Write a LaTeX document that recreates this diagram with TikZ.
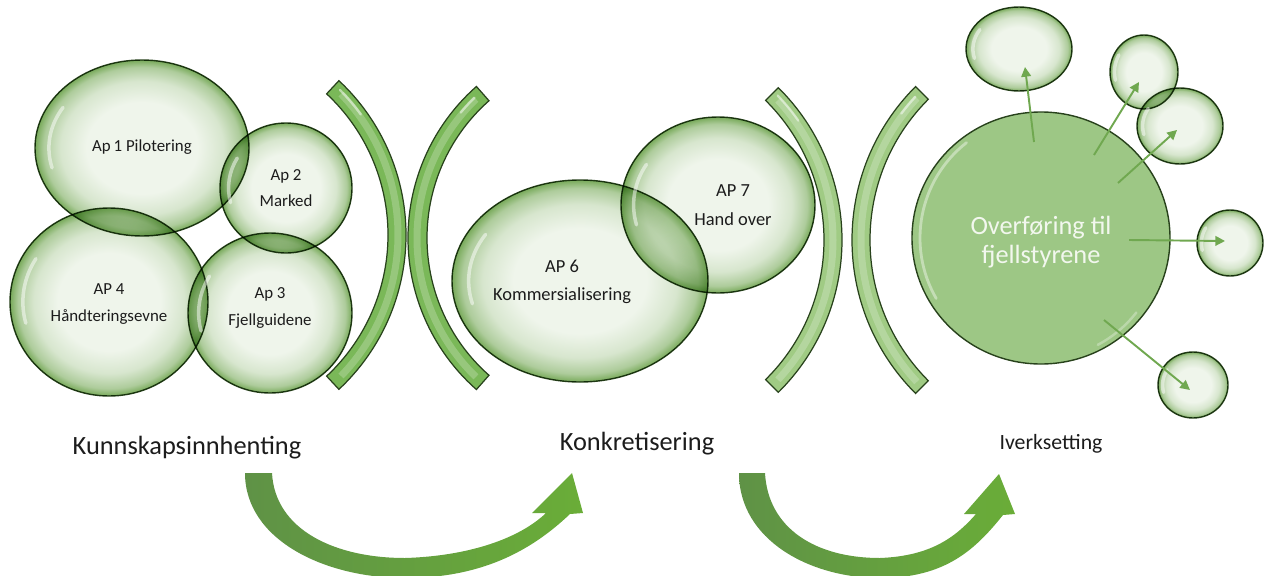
\documentclass[tikz,border=0pt]{standalone}
\usepackage{fontspec}
\setmainfont{Carlito}
\usetikzlibrary{shapes.geometric,arrows.meta}
\newcommand\PX{0.02cm}
\definecolor{bubIn}{RGB}{239,245,235}
\definecolor{bubOut}{RGB}{120,170,90}
\definecolor{edgec}{RGB}{40,66,28}
\definecolor{txt}{RGB}{28,28,28}
\definecolor{brkA}{RGB}{122,184,88}
\definecolor{brkB}{RGB}{160,203,132}
\definecolor{bigfill}{RGB}{157,199,133}
\definecolor{bigtxt}{RGB}{242,247,238}
\definecolor{arr}{RGB}{112,168,80}
\definecolor{bigarrL}{RGB}{95,146,70}
\definecolor{bigarrR}{RGB}{106,173,56}
\pgfdeclareradialshading{bubshade}{\pgfpoint{0bp}{0bp}}{color(0bp)=(bubIn); color(13bp)=(bubIn); color(19bp)=(bubIn!80!bubOut); color(23bp)=(bubIn!45!bubOut); color(25bp)=(bubOut); color(50bp)=(bubOut)}
\newcommand\gloss[4]{\draw[glossy] (#1,#2) ++(212:{0.87*#3} and {0.87*#4}) arc[start angle=212,end angle=165,x radius={0.87*#3},y radius={0.87*#4}];}
\begin{document}
\begin{tikzpicture}[x=0.02cm,y=-0.02cm,
  bubble/.style={ellipse, draw=edgec, line width=0.8pt, shading=bubshade,
    blend mode=multiply, inner sep=0pt},
  lbl/.style={align=center, text=txt, inner sep=0pt},
  small/.style={lbl, font=\fontsize{9.6}{15}\selectfont},
  mid/.style={lbl, font=\fontsize{10.5}{16.2}\selectfont},
  phase/.style={lbl, font=\fontsize{15}{18}\selectfont},
  brk/.style={draw=edgec, line width=0.7pt},
  brkhl/.style={line width=7*\PX, draw=white, opacity=0.22},
  glossy/.style={draw=white, line width=2pt, opacity=0.5, line cap=round},
  spoke/.style={draw=arr, line width=1.1pt, -{Triangle[length=5.5pt,width=5.5pt]}}
]
\useasboundingbox (0,0) rectangle (1265,575);

% ---------- left group ----------
\node[bubble, minimum width=214*\PX, minimum height=176*\PX] (ap1) at (142,148) {};
\node[bubble, minimum width=132*\PX, minimum height=130*\PX] (ap2) at (286,188) {};
\node[bubble, minimum width=198*\PX, minimum height=188*\PX] (ap4) at (109,302) {};
\node[bubble, minimum width=164*\PX, minimum height=160*\PX] (ap3) at (270,313) {};
\gloss{142}{148}{107}{88}
\gloss{286}{188}{66}{65}
\gloss{109}{302}{99}{94}
\gloss{270}{313}{82}{80}
\node[small] (ap1t) at (142,147) {Ap\,1 Pilotering};
\node[small] (ap2t) at (286,188) {Ap 2\\Marked};
\node[small] (ap4t) at (109,304) {AP 4\\Håndteringsevne};
\node[small] (ap3t) at (270,308) {Ap 3\\Fjellguidene};

% ---------- brackets 1 ----------
\draw[brk, fill=brkA] (195,235) ++(-47:193) arc[start angle=-47,end angle=47,radius=193] -- ++(47:18) arc[start angle=47,end angle=-47,radius=211] -- cycle;
\draw[brkhl] (195,235) ++(-44:203) arc[start angle=-44,end angle=44,radius=203];
\draw[glossy, line width=1.3pt] (195,235) ++(-45:205) arc[start angle=-45,end angle=-36,radius=205];
\draw[brk, fill=brkA] (610,238) ++(131.4:183) arc[start angle=131.4,end angle=228.6,radius=183] -- ++(228.6:19) arc[start angle=228.6,end angle=131.4,radius=202] -- cycle;
\draw[brkhl] (610,238) ++(134:193) arc[start angle=134,end angle=226,radius=193];
\draw[glossy, line width=1.3pt] (610,238) ++(226:195) arc[start angle=226,end angle=220,radius=195];

% ---------- brackets 2 ----------
\draw[brk, fill=brkB] (628,240) ++(-45.4:196) arc[start angle=-45.4,end angle=45.4,radius=196] -- ++(45.4:18) arc[start angle=45.4,end angle=-45.4,radius=214] -- cycle;
\draw[brkhl] (628,240) ++(-43:205) arc[start angle=-43,end angle=43,radius=205];
\draw[glossy, line width=1.3pt] (628,240) ++(-44:208) arc[start angle=-44,end angle=-35,radius=208];
\draw[brk, fill=brkB] (1069,240) ++(135:199) arc[start angle=135,end angle=225,radius=199] -- ++(225:18) arc[start angle=225,end angle=135,radius=217] -- cycle;
\draw[brkhl] (1069,240) ++(137:208) arc[start angle=137,end angle=223,radius=208];
\draw[glossy, line width=1.3pt] (1069,240) ++(223:210) arc[start angle=223,end angle=217,radius=210];

% ---------- middle group ----------
\node[bubble, minimum width=256*\PX, minimum height=202*\PX] (ap6) at (580,281) {};
\node[bubble, minimum width=194*\PX, minimum height=176*\PX] (ap7) at (718,205) {};
\gloss{580}{281}{128}{101}
\gloss{718}{205}{97}{88}
\node[mid] (ap6t) at (562,282) {AP 6\\Kommersialisering};
\node[mid] (ap7t) at (733,205) {AP 7\\Hand over};

% ---------- right group ----------
\node[ellipse, draw=edgec, line width=0.8pt, fill=bigfill, inner sep=0pt,
      minimum width=258*\PX, minimum height=252*\PX] (big) at (1041,238) {};
\draw[draw=white, line width=1.6pt, opacity=0.4, line cap=round] (1041,238) ++(150:121) arc[start angle=150,end angle=232,radius=121];
\draw[draw=white, line width=1.4pt, opacity=0.3, line cap=round] (1041,238) ++(38:121) arc[start angle=38,end angle=62,radius=121];
\node[lbl, text=bigtxt, font=\fontsize{15}{16.5}\selectfont] (bigt) at (1041,242) {Overføring til\\fjellstyrene};

\node[bubble, minimum width=106*\PX, minimum height=84*\PX] (s1) at (1019,49) {};
\node[bubble, minimum width=68*\PX, minimum height=74*\PX] (s2) at (1144,72) {};
\node[bubble, minimum width=86*\PX, minimum height=76*\PX] (s3) at (1180,126) {};
\node[bubble, minimum width=66*\PX, minimum height=66*\PX] (s4) at (1230,243) {};
\node[bubble, minimum width=70*\PX, minimum height=66*\PX] (s5) at (1193,385) {};
\gloss{1019}{49}{53}{42}
\gloss{1144}{72}{34}{37}
\gloss{1180}{126}{43}{38}
\gloss{1230}{243}{33}{33}
\gloss{1193}{385}{35}{33}

\coordinate (o1) at (1034,142); \coordinate (e1) at (1025,67);
\coordinate (o2) at (1094,155); \coordinate (e2) at (1139,82);
\coordinate (o3) at (1118,183); \coordinate (e3) at (1177,130);
\coordinate (o4) at (1129,240); \coordinate (e4) at (1225,241);
\coordinate (o5) at (1104,320); \coordinate (e5) at (1190,390);
\draw[spoke] (o1) -- (e1);
\draw[spoke] (o2) -- (e2);
\draw[spoke] (o3) -- (e3);
\draw[spoke] (o4) -- (e4);
\draw[spoke] (o5) -- (e5);

% ---------- phase labels ----------
\node[phase] (p1) at (187,448) {Kunnskapsinnhenting};
\node[phase] (p2) at (637,444) {Konkretisering};
\node[lbl, font=\fontsize{12.4}{15}\selectfont] (p3) at (1051,444) {Iverksetting};

% ---------- curved arrows ----------
\shade[left color=bigarrL, right color=bigarrR]
  (245,473) .. controls (245,540) and (325,578) .. (405,578)
  .. controls (480,578) and (530,552) .. (570,514)
  -- (583,513) -- (572,473) -- (532,513) -- (546,513)
  .. controls (520,538) and (470,556) .. (405,558)
  .. controls (335,558) and (275,530) .. (272,473) -- cycle;
\shade[left color=bigarrL, right color=bigarrR]
  (739,473) .. controls (739,540) and (810,578) .. (880,578)
  .. controls (945,578) and (975,550) .. (1003,515)
  -- (1015,514) -- (999,474) -- (964,514) -- (976,514)
  .. controls (955,538) and (930,556) .. (880,558)
  .. controls (815,558) and (768,528) .. (765,473) -- cycle;
\end{tikzpicture}
\end{document}
